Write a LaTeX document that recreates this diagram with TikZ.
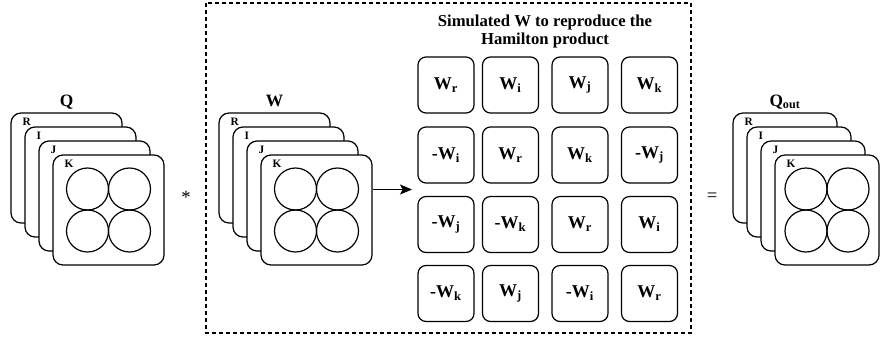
\documentclass[tikz,border=0pt]{standalone}
\usepackage{fontspec}
\setmainfont{Liberation Serif}[BoldFont={Liberation Serif Bold}]
\usetikzlibrary{arrows.meta,positioning}

\newcommand{\wc}[1]{W\textsubscript{#1}}
% stack of R,I,J,K cards: name, x and y of the back card, card width
\newcommand{\cardstack}[4]{%
  \foreach \c [count=\n from 0] in {R,I,J,K}
    \node[card, minimum width=#4, label={[cardtag]north west:\c}] (#1-\c) at ({#2+14*\n},{#3+14*\n}) {};
  \foreach \dx in {-21,21}
    \foreach \dy in {-21,21}
      \draw[line width=0.9pt] (#1-K.center) ++(\dx,\dy) circle[radius=15.75pt];
}

\begin{document}
\begin{tikzpicture}[x=0.75pt,y=-0.75pt,
    card/.style={draw, fill=white, line width=0.9pt, rounded corners=7.5pt,
      minimum width=83.25pt, minimum height=82.5pt, inner sep=0pt},
    cardtag/.style={anchor=north west, inner sep=0pt, xshift=9pt, yshift=-3.75pt,
      font=\bfseries\fontsize{8.5}{9}\selectfont},
    stacktitle/.style={inner sep=0pt, font=\bfseries\fontsize{13}{14}\selectfont},
    wcell/.style={draw, line width=0.9pt, rounded corners=6pt, minimum width=42pt,
      minimum height=42pt, inner sep=0pt, font=\bfseries\fontsize{13.5}{15}\selectfont},
    op/.style={font=\fontsize{14}{15}\selectfont}]
   \useasboundingbox (0,0) rectangle (880,340);

   % simulated weight group
   \draw[line width=0.8pt, dash pattern=on 3pt off 2.25pt] (206,3) rectangle (691,333);

   \cardstack{Q}{66.5}{168}{83.25pt}
   \cardstack{W}{274.5}{168}{83.25pt}
   \cardstack{Qo}{785}{168}{78pt}

   \node[stacktitle, above=4.5pt of Q-R, anchor=base] (qname) {Q};
   \node[stacktitle, above=4.5pt of W-R, anchor=base] (wname) {W};
   \node[stacktitle, above=4.5pt of Qo-R, anchor=base] (qoname) {Q\textsubscript{out}};

   \node[op] (times) at (186,197) {*};
   \node[op] (equals) at (712,197) {=};

   \node[align=center, font=\bfseries\fontsize{12.5}{13.5}\selectfont] (title) at (545,31)
      {Simulated W to reproduce the\\Hamilton product};

   % Hamilton product layout
   \node[wcell] (c11) at (446,85) {\wc{r}};
   \node[wcell] (c12) at (510.5,85) {\wc{i}};
   \node[wcell] (c13) at (580,85) {\wc{j}};
   \node[wcell] (c14) at (649.5,85) {\wc{k}};
   \node[wcell] (c21) at (446,155) {-\wc{i}};
   \node[wcell] (c22) at (510.5,155) {\wc{r}};
   \node[wcell] (c23) at (580,155) {\wc{k}};
   \node[wcell] (c24) at (649.5,155) {-\wc{j}};
   \node[wcell] (c31) at (446,224.5) {-\wc{j}};
   \node[wcell] (c32) at (510.5,224.5) {-\wc{k}};
   \node[wcell] (c33) at (580,224.5) {\wc{r}};
   \node[wcell] (c34) at (649.5,224.5) {\wc{i}};
   \node[wcell] (c41) at (446,293.5) {-\wc{k}};
   \node[wcell] (c42) at (510.5,293.5) {\wc{j}};
   \node[wcell] (c43) at (580,293.5) {-\wc{i}};
   \node[wcell] (c44) at (649.5,293.5) {\wc{r}};

   \coordinate (gridin) at (412,189.5);
   \draw[line width=0.9pt, -{Stealth[length=9pt,width=7.5pt,inset=2pt]}] (W-K.east |- gridin) -- (gridin);
  \end{tikzpicture}
\end{document}
